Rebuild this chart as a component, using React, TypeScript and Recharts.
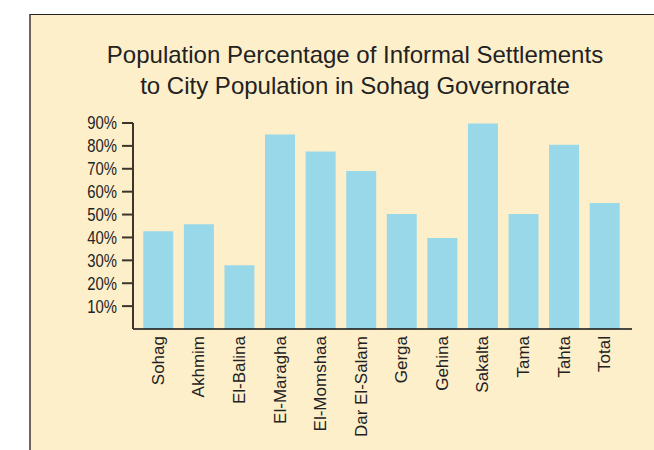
import { BarChart, Bar, XAxis, YAxis } from "recharts";

const CITIES = [
  "Sohag",
  "Akhmim",
  "El-Balina",
  "El-Maragha",
  "El-Momshaa",
  "Dar El-Salam",
  "Gerga",
  "Gehina",
  "Sakalta",
  "Tama",
  "Tahta",
  "Total",
];
const SHARE = [42.7, 45.8, 27.8, 85, 77.5, 69, 50.2, 39.8, 89.8, 50.2, 80.5, 55];
const Y_TICKS = [10, 20, 30, 40, 50, 60, 70, 80, 90];

const BG = "#feefcb";
const BAR = "#99d8e8";
const INK = "#222";
const SANS = "'Liberation Sans', Arial, sans-serif";

const data = CITIES.map((name, i) => ({ name, value: SHARE[i] }));

function CityTick({ x, y, payload }: any) {
  return (
    <text
      transform={`translate(${x},${y - 1}) rotate(-90)`}
      textAnchor="end"
      dominantBaseline="central"
      fontSize={17}
      fontFamily={SANS}
      fill={INK}
    >
      {payload.value}
    </text>
  );
}

// percent labels in the reference are a bit squeezed sideways
function PercentTick({ x, y, payload }: any) {
  return (
    <text
      transform={`translate(${x},${y}) scale(0.85,1)`}
      textAnchor="end"
      dominantBaseline="central"
      fontSize={17.5}
      fontFamily={SANS}
      fill={INK}
    >
      {`${payload.value}%`}
    </text>
  );
}

export default function App() {
  return (
    <div style={{ position: "absolute", left: 0, top: 0, width: 654, height: 450, background: "#fff" }}>
      <div
        style={{
          position: "absolute",
          left: 29,
          top: 14,
          width: 625,
          height: 436,
          background: BG,
          borderLeft: "2px solid #6e6657",
          borderTop: "1px solid #222",
          boxSizing: "border-box",
        }}
      />
      <div
        style={{
          position: "absolute",
          left: 55,
          top: 39,
          width: 600,
          textAlign: "center",
          fontFamily: SANS,
          fontSize: 24,
          lineHeight: "31px",
          color: INK,
        }}
      >
        Population Percentage of Informal Settlements
        <br />
        to City Population in Sohag Governorate
      </div>
      <div style={{ position: "absolute", left: 0, top: 0 }}>
        <BarChart
          width={654}
          height={450}
          data={data}
          margin={{ top: 123, right: 22, bottom: 0, left: 0 }}
          barCategoryGap="13%"
        >
          <XAxis
            dataKey="name"
            height={121}
            interval={0}
            tickLine={false}
            axisLine={{ stroke: "#111", strokeWidth: 1.5 }}
            tick={<CityTick />}
            padding={{ left: 5, right: 7 }}
          />
          <YAxis
            width={133}
            domain={[0, 90]}
            ticks={Y_TICKS}
            interval={0}
            tickSize={11}
            tickMargin={5}
            axisLine={{ stroke: "#3d3529", strokeWidth: 2 }}
            tickLine={{ stroke: "#3d3529", strokeWidth: 2 }}
            tick={<PercentTick />}
          />
          <Bar dataKey="value" fill={BAR} isAnimationActive={false} />
        </BarChart>
      </div>
    </div>
  );
}
